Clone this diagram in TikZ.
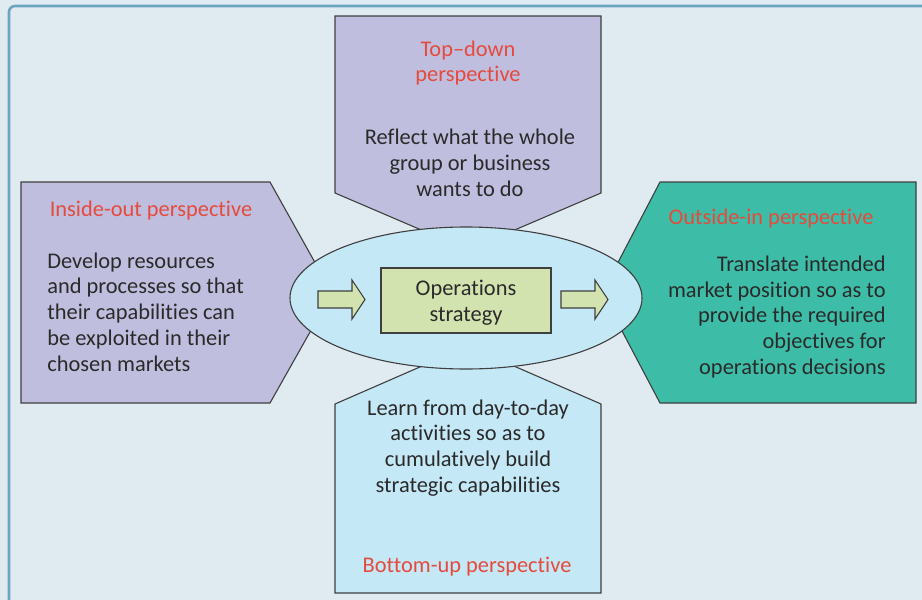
\documentclass[tikz,border=0pt]{standalone}
\usepackage{fontspec}
\setmainfont{Carlito}[Ligatures={NoCommon,NoContextual}]
\usepackage{tikz}
\usetikzlibrary{arrows.meta, calc, positioning, shapes.geometric}

\definecolor{bgblue}{HTML}{E0EBF1}
\definecolor{frameblue}{HTML}{6BA5C1}
\definecolor{lilac}{HTML}{BFBEDE}
\definecolor{teal}{HTML}{3DBDA7}
\definecolor{paleblue}{HTML}{C5E8F7}
\definecolor{palegreen}{HTML}{D2E3B0}
\definecolor{headred}{HTML}{E64A3C}
\definecolor{ink}{HTML}{2A2A2A}

\tikzset{
  outline/.style={draw=ink!90, line width=0.55pt},
  head/.style={text=headred, inner sep=0pt, align=center},
  body/.style={text=ink, inner sep=0pt}
}

\begin{document}
\begin{tikzpicture}[x=0.5pt, y=-0.5pt, >=Latex, font=\fontsize{11.2}{12.9}\selectfont]

  \useasboundingbox (0,0) rectangle (922,600);
  \fill[bgblue] (0,0) rectangle (922,600);
  \draw[frameblue, line width=1.3pt, rounded corners=3pt, fill=bgblue] (9,6) rectangle (960,640);

  \draw[outline, fill=lilac] (335,16) -- (601,16) -- (601,193) -- (468,250) -- (335,193) -- cycle;
  \draw[outline, fill=paleblue] (335,593) -- (601,593) -- (601,404) -- (468,346) -- (335,404) -- cycle;
  \draw[outline, fill=lilac] (21,182) -- (270,182) -- (332,293) -- (270,403) -- (21,403) -- cycle;
  \draw[outline, fill=teal] (916,182) -- (660,182) -- (602,293) -- (660,403) -- (916,403) -- cycle;

  \node[outline, ellipse, fill=paleblue, minimum width=176pt, minimum height=71pt] (hub) at (466,298) {};
  \node[outline, fill=palegreen, minimum width=85pt, minimum height=32.5pt, align=center, text=ink,
        inner sep=0pt] (opstrat) at (466,300.5) {};
  \node[body, align=center] (opslabel) at (466,303) {Operations\\strategy};

  \foreach \x in {318, 561} {
    \draw[outline, fill=palegreen] (\x,291) -- (\x+34,291) -- (\x+34,280) -- (\x+47,299.5)
      -- (\x+34,319) -- (\x+34,308) -- (\x,308) -- cycle;
  }

  \node[head] (tophead) at (468,63) {Top--down\\perspective};
  \node[body, align=center] (topbody) at (470,163) {Reflect what the whole\\group or business\\wants to do};

  \node[head] (lefthead) at (151,211) {Inside-out perspective};
  \node[body, align=left, anchor=west] (leftbody) at (47,312) {Develop resources\\and processes so that\\their capabilities can\\be exploited in their\\chosen markets};

  \node[head] (righthead) at (771,219) {Outside-in perspective};
  \node[body, align=right, anchor=east] (rightbody) at (886,317) {Translate intended\\market position so as to\\provide the required\\objectives for\\operations decisions};

  \node[body, align=center] (botbody) at (468,448) {Learn from day-to-day\\activities so as to\\cumulatively build\\strategic capabilities};
  \node[head] (bothead) at (467,567) {Bottom-up perspective};

\end{tikzpicture}
\end{document}
